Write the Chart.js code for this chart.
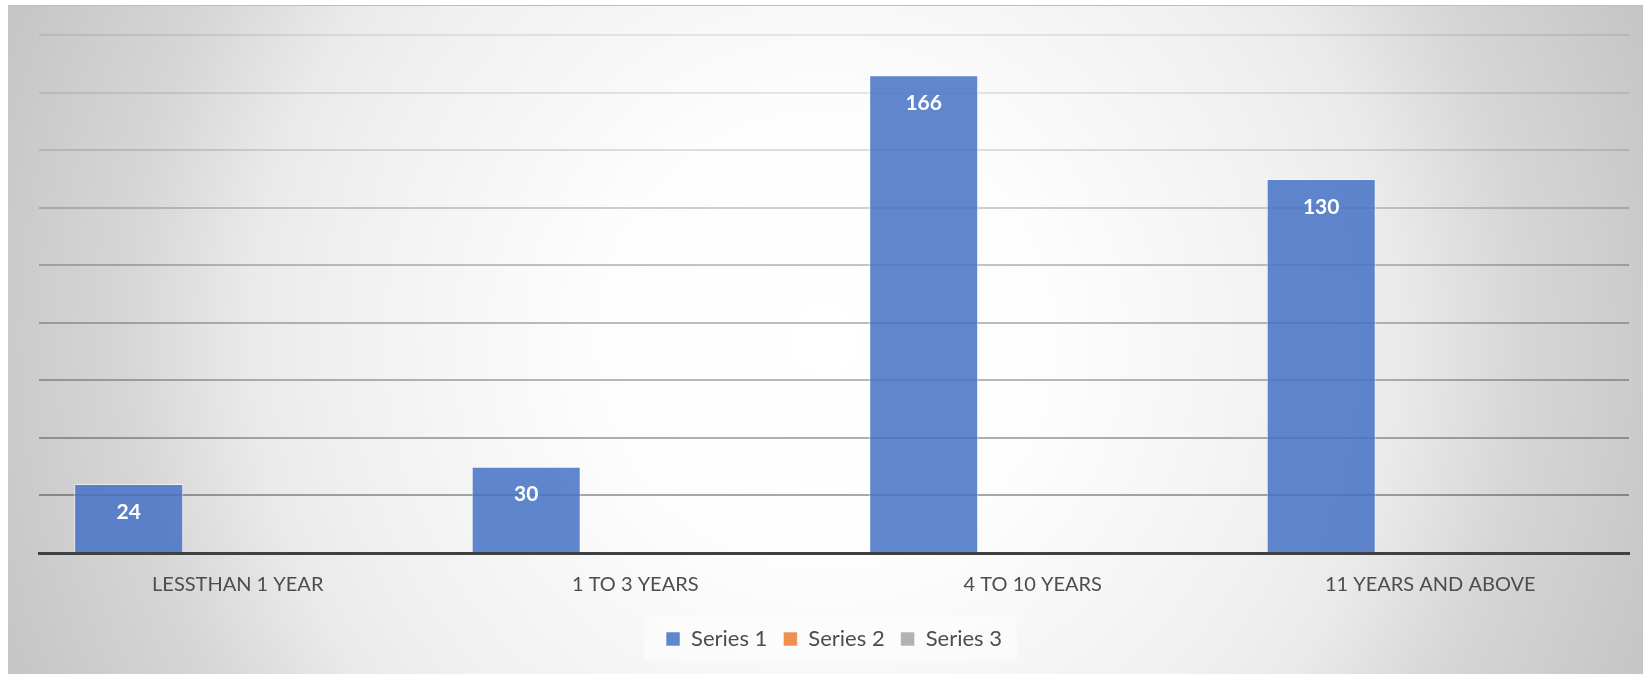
<!DOCTYPE html>
<html>
<head>
<meta charset="utf-8">
<script src="https://cdn.jsdelivr.net/npm/chart.js@4/dist/chart.umd.min.js"></script>
<style>
  html, body { margin: 0; padding: 0; background: #ffffff; }
  #frame {
    position: absolute; left: 8px; top: 5px; width: 1635px; height: 669px;
    box-sizing: border-box; border-top: 1px solid #bdbdbd;
    background: radial-gradient(circle at 50% 50%,
      #ffffff 0px, #fdfdfd 230px, #f0f0f0 490px, #eaeaea 575px,
      #d6d6d6 700px, #c5c5c5 880px);
  }
  canvas { display: block; }
</style>
</head>
<body>
<div id="frame"><canvas id="c" width="1635" height="668"></canvas></div>
<script>
// Years of experience groups and their counts
const categories = ['LESSTHAN 1 YEAR', '1 TO 3 YEARS', '4 TO 10 YEARS', '11 YEARS AND ABOVE'];
const series1 = [24, 30, 166, 130];
const series2 = [null, null, null, null];
const series3 = [null, null, null, null];
const seriesNames = ['Series 1', 'Series 2', 'Series 3'];
const yMax = 180;
const yStep = 20;

const FONT = 'Lato, "Open Sans", sans-serif';

// Gridlines fade toward the top of the plot
const gridAlpha = { 0: 0, 20: 0.34, 40: 0.31, 60: 0.28, 80: 0.26, 100: 0.23, 120: 0.18, 140: 0.12, 160: 0.09, 180: 0.08 };

// White value labels drawn inside the top of each bar
const barValueLabels = {
  id: 'barValueLabels',
  afterDatasetsDraw(chart) {
    const ctx = chart.ctx;
    ctx.save();
    ctx.font = 'bold 21px ' + FONT;
    ctx.fillStyle = '#ffffff';
    ctx.textAlign = 'center';
    ctx.textBaseline = 'middle';
    const meta = chart.getDatasetMeta(0);
    meta.data.forEach((bar, i) => {
      const v = chart.data.datasets[0].data[i];
      if (v == null) return;
      ctx.fillText(String(v), bar.x, bar.y + 28);
    });
    ctx.restore();
  }
};

// Soft panel behind the legend
const legendPanel = {
  id: 'legendPanel',
  beforeDraw(chart) {
    const lg = chart.legend;
    if (!lg || !lg.legendHitBoxes || !lg.legendHitBoxes.length) return;
    const boxes = lg.legendHitBoxes;
    const x0 = boxes[0].left - 22;
    const last = boxes[boxes.length - 1];
    const x1 = last.left + last.width + 15;
    const cy = boxes[0].top + boxes[0].height / 2;
    const ctx = chart.ctx;
    ctx.save();
    ctx.fillStyle = 'rgba(255,255,255,0.45)';
    ctx.fillRect(x0, cy - 23, x1 - x0, 45);
    ctx.restore();
  }
};

new Chart(document.getElementById('c'), {
  type: 'bar',
  data: {
    labels: categories,
    datasets: [
      { label: seriesNames[0], data: series1, backgroundColor: 'rgba(68,114,196,0.85)', borderColor: 'rgba(255,255,255,0.55)', borderWidth: 1 },
      { label: seriesNames[1], data: series2, backgroundColor: 'rgba(237,125,49,0.85)', borderColor: 'rgba(255,255,255,0.55)', borderWidth: 1 },
      { label: seriesNames[2], data: series3, backgroundColor: 'rgba(165,165,165,0.85)', borderColor: 'rgba(255,255,255,0.55)', borderWidth: 1 }
    ]
  },
  options: {
    responsive: false,
    animation: false,
    devicePixelRatio: 1,
    categoryPercentage: 0.823,
    barPercentage: 1,
    layout: { padding: { left: 31, right: 14, top: 29, bottom: 14 } },
    scales: {
      x: {
        grid: { display: false, drawTicks: false },
        border: { display: true, color: '#404040', width: 3 },
        ticks: { color: '#4d4d4d', font: { family: FONT, size: 20 }, padding: 20 },
        afterFit(scale) { scale.height = 59; }
      },
      y: {
        min: 0, max: yMax,
        ticks: { stepSize: yStep, display: false },
        border: { display: false },
        grid: {
          drawTicks: false,
          lineWidth: 2,
          color(ctx) {
            const a = gridAlpha[ctx.tick ? ctx.tick.value : 0];
            return 'rgba(0,0,0,' + (a == null ? 0.2 : a) + ')';
          }
        }
      }
    },
    plugins: {
      tooltip: { enabled: false },
      legend: {
        position: 'bottom',
        labels: {
          color: '#4d4d4d',
          font: { family: FONT, size: 22 },
          boxWidth: 14, boxHeight: 14,
          padding: 16
        }
      }
    }
  },
  plugins: [barValueLabels, legendPanel]
});
</script>
</body>
</html>
